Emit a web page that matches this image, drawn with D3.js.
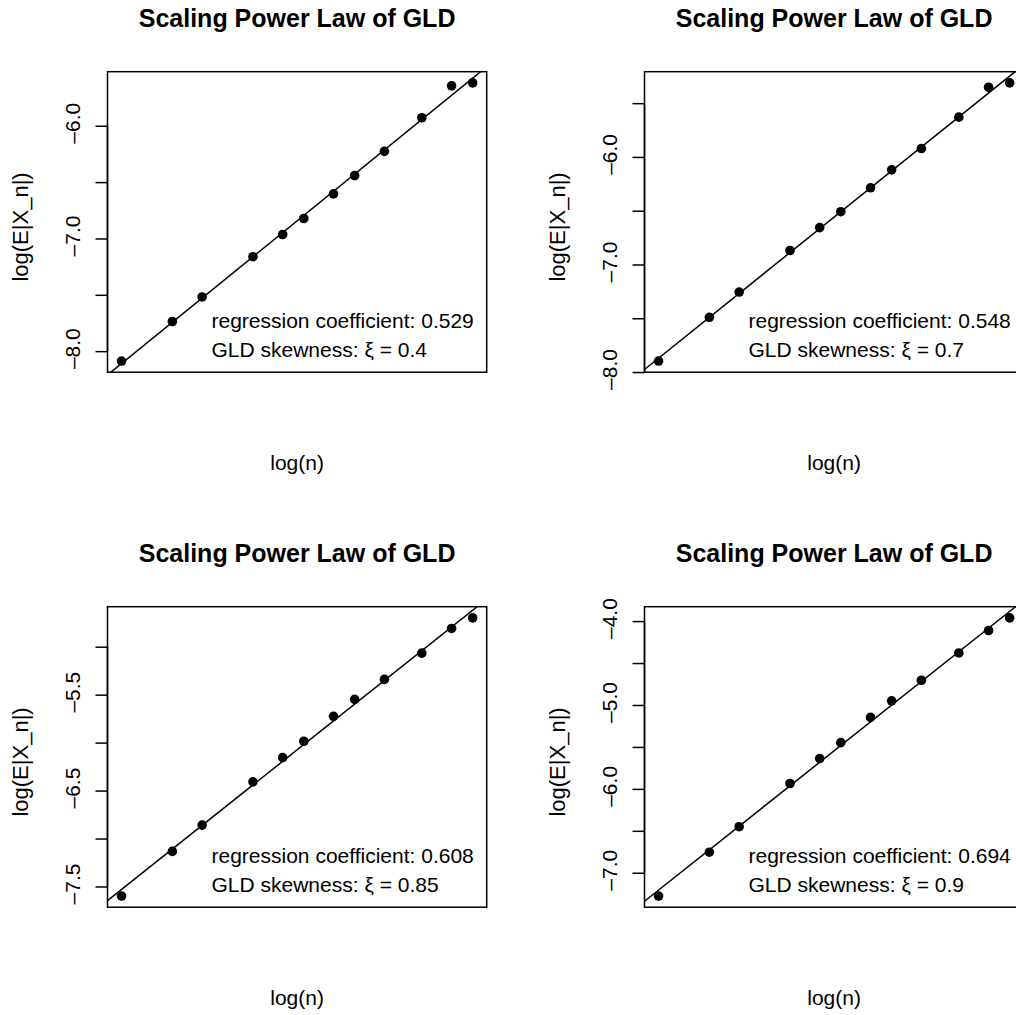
<!DOCTYPE html>
<html>
<head>
<meta charset="utf-8">
<script src="https://cdn.jsdelivr.net/npm/d3@7"></script>
<style>
  html, body { margin: 0; padding: 0; background: #fff; }
  svg { display: block; }
  text { font-family: "Liberation Sans", Arial, Helvetica, sans-serif; fill: #000; }
</style>
</head>
<body>
<svg id="chart" width="1016" height="1015"></svg>
<script>
// ---- data ----
const titleText = "Scaling Power Law of GLD";
const xLabel = "log(n)";
const yLabel = "log(E|X_n|)";
// x = log(n) for n = 1,2,3,6,9,12,18,24,36,60,90,120
const logN = [0, 0.693, 1.099, 1.792, 2.197, 2.485, 2.890, 3.178, 3.584, 4.094, 4.500, 4.787];

const ySkew04  = [-8.088, -7.737, -7.519, -7.162, -6.965, -6.823, -6.604, -6.442, -6.227, -5.929, -5.646, -5.619];
const ySkew07  = [-7.898, -7.491, -7.256, -6.870, -6.657, -6.509, -6.287, -6.120, -5.922, -5.630, -5.352, -5.311];
const ySkew085 = [-7.600, -7.134, -6.860, -6.409, -6.156, -5.986, -5.726, -5.549, -5.341, -5.067, -4.810, -4.699];
const ySkew09  = [-7.278, -6.755, -6.451, -5.936, -5.639, -5.449, -5.148, -4.950, -4.705, -4.380, -4.112, -3.961];

const regCoefs = [0.529, 0.548, 0.608, 0.694];
const skewLabels = ["0.4", "0.7", "0.85", "0.9"];

const ticks04  = [-8.0, -7.5, -7.0, -6.5, -6.0];
const ticks07  = [-8.0, -7.5, -7.0, -6.5, -6.0, -5.5];
const ticks085 = [-7.5, -7.0, -6.5, -6.0, -5.5, -5.0];
const ticks09  = [-7.0, -6.5, -6.0, -5.5, -5.0, -4.5, -4.0];

const tickLabels04  = ["-8.0", "", "-7.0", "", "-6.0"];
const tickLabels07  = ["-8.0", "", "-7.0", "", "-6.0", ""];
const tickLabels085 = ["-7.5", "", "-6.5", "", "-5.5", ""];
const tickLabels09  = ["-7.0", "", "-6.0", "", "-5.0", "", "-4.0"];

const panels = [
  { col: 0, row: 0, y: ySkew04,  ticks: ticks04,  tickLabels: tickLabels04,  coef: regCoefs[0], skew: skewLabels[0] },
  { col: 1, row: 0, y: ySkew07,  ticks: ticks07,  tickLabels: tickLabels07,  coef: regCoefs[1], skew: skewLabels[1] },
  { col: 0, row: 1, y: ySkew085, ticks: ticks085, tickLabels: tickLabels085, coef: regCoefs[2], skew: skewLabels[2] },
  { col: 1, row: 1, y: ySkew09,  ticks: ticks09,  tickLabels: tickLabels09,  coef: regCoefs[3], skew: skewLabels[3] }
];

// ---- layout ----
const panelW = 537, panelH = 535;
const box = { left: 107.5, right: 486.7, top: 71.7, bottom: 372.2 };
const baseFont = 21, titleFont = 25;

const svg = d3.select("#chart");

function extend(ext) {
  const r = ext[1] - ext[0];
  return [ext[0] - 0.04 * r, ext[1] + 0.04 * r];
}

panels.forEach((p, i) => {
  const ox = p.col * panelW, oy = p.row * panelH;
  const g = svg.append("g").attr("transform", `translate(${ox},${oy})`);

  const x = d3.scaleLinear().domain(extend(d3.extent(logN))).range([box.left, box.right]);
  const y = d3.scaleLinear().domain(extend(d3.extent(p.y))).range([box.bottom, box.top]);

  // clip
  const clipId = "clip" + i;
  g.append("clipPath").attr("id", clipId)
    .append("rect")
    .attr("x", box.left).attr("y", box.top)
    .attr("width", box.right - box.left).attr("height", box.bottom - box.top);

  // regression line (slope = coefficient, through the data means)
  const mx = d3.mean(logN), my = d3.mean(p.y);
  const xd = x.domain();
  const lineData = xd.map(v => [v, my + p.coef * (v - mx)]);
  g.append("path")
    .attr("clip-path", `url(#${clipId})`)
    .attr("d", d3.line().x(d => x(d[0])).y(d => y(d[1]))(lineData))
    .attr("fill", "none").attr("stroke", "#000").attr("stroke-width", 1.5);

  // points
  g.append("g").selectAll("circle")
    .data(logN.map((v, k) => [v, p.y[k]]))
    .join("circle")
    .attr("cx", d => x(d[0])).attr("cy", d => y(d[1]))
    .attr("r", 4.8).attr("fill", "#000");

  // box
  g.append("rect")
    .attr("x", box.left).attr("y", box.top)
    .attr("width", box.right - box.left).attr("height", box.bottom - box.top)
    .attr("fill", "none").attr("stroke", "#000").attr("stroke-width", 1.5);

  // y axis
  const axis = d3.axisLeft(y).tickValues(p.ticks).tickSize(12)
    .tickFormat((d, k) => p.tickLabels[k].replace("-", "\u2013"));
  const ag = g.append("g").attr("transform", `translate(${box.left},0)`).call(axis);
  ag.select(".domain")
    .attr("d", `M0,${y(p.ticks[0])}V${y(p.ticks[p.ticks.length - 1])}`)
    .attr("stroke-width", 1.5);
  ag.selectAll(".tick line").attr("stroke-width", 1.5);
  ag.selectAll(".tick text")
    .attr("font-size", baseFont)
    .attr("font-family", '"Liberation Sans", Arial, sans-serif')
    .attr("text-anchor", "middle")
    .attr("x", null).attr("dy", null)
    .attr("transform", "translate(-28,-3) rotate(-90)");

  // title
  g.append("text")
    .attr("x", (box.left + box.right) / 2).attr("y", 27)
    .attr("text-anchor", "middle")
    .attr("font-size", titleFont).attr("font-weight", "bold")
    .text(titleText);

  // x label
  g.append("text")
    .attr("x", (box.left + box.right) / 2).attr("y", 470)
    .attr("text-anchor", "middle")
    .attr("font-size", baseFont)
    .text(xLabel);

  // y label
  g.append("text")
    .attr("transform", `translate(28,${(box.top + box.bottom) / 2 + 5}) rotate(-90)`)
    .attr("text-anchor", "middle")
    .attr("font-size", 22)
    .text(yLabel);

  // annotation
  const tx = box.left + 104;
  g.append("text")
    .attr("x", tx).attr("y", 328)
    .attr("font-size", baseFont)
    .text("regression coefficient: " + p.coef.toFixed(3));
  const t2 = g.append("text")
    .attr("x", tx).attr("y", 357)
    .attr("font-size", baseFont);
  t2.append("tspan").text("GLD skewness: ");
  t2.append("tspan").text("\u03BE");
  t2.append("tspan").text(" = ");
  t2.append("tspan").text(p.skew);
});
</script>
</body>
</html>
